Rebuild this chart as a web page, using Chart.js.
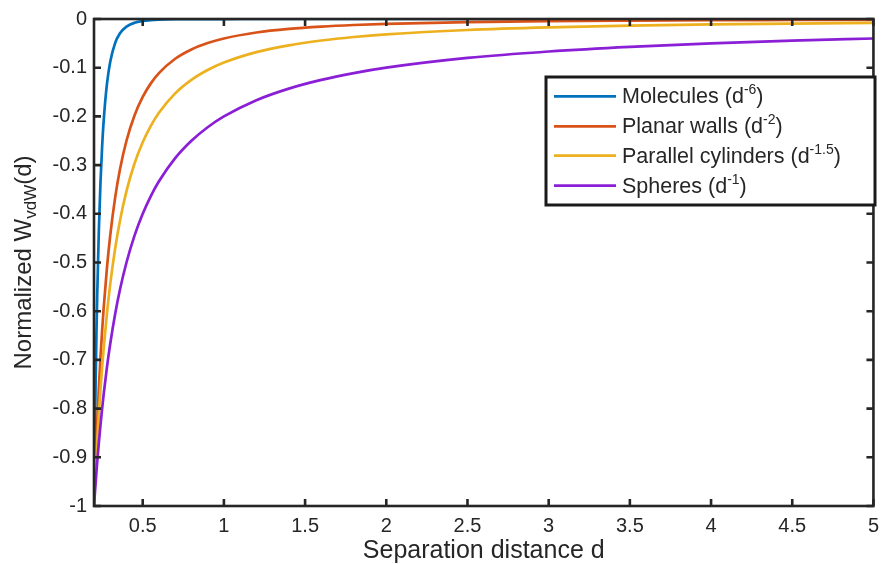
<!DOCTYPE html>
<html>
<head>
<meta charset="utf-8">
<script src="https://cdn.jsdelivr.net/npm/chart.js@4.4.1/dist/chart.umd.min.js"></script>
<style>
html,body{margin:0;padding:0;background:#fff;}
#wrap{width:887px;height:564px;position:relative;}
</style>
</head>
<body>
<div id="wrap"><canvas id="c" width="887" height="564"></canvas></div>
<script>
// Separation distance samples
const dValues = [0.2,0.205,0.21,0.215,0.22,0.23,0.24,0.25,0.26,0.28,0.3,0.33,0.36,0.4,0.45,0.5,0.55,0.6,0.7,0.8,0.9,1.0,1.2,1.4,1.6,1.8,2.0,2.5,3,3.5,4,4.5,5];
// Normalized W_vdW(d)
const molecules = [-1,-0.8623,-0.7462,-0.648,-0.5645,-0.4323,-0.3349,-0.2621,-0.2072,-0.1328,-0.0878,-0.0496,-0.0294,-0.0156,-0.0077,-0.0041,-0.0023,-0.0014,-0.0005,-0.0002,-0.0001,-0.0001,0,0,0,0,0,0,0,0,0,0,0];
const planarWalls = [-1,-0.9518,-0.907,-0.8653,-0.8264,-0.7561,-0.6944,-0.64,-0.5917,-0.5102,-0.4444,-0.3673,-0.3086,-0.25,-0.1975,-0.16,-0.1322,-0.1111,-0.0816,-0.0625,-0.0494,-0.04,-0.0278,-0.0204,-0.0156,-0.0123,-0.01,-0.0064,-0.0044,-0.0033,-0.0025,-0.002,-0.0016];
const cylinders = [-1,-0.9636,-0.9294,-0.8972,-0.8668,-0.8109,-0.7607,-0.7155,-0.6747,-0.6037,-0.5443,-0.4718,-0.4141,-0.3536,-0.2963,-0.253,-0.2193,-0.1925,-0.1527,-0.125,-0.1048,-0.0894,-0.068,-0.054,-0.0442,-0.037,-0.0316,-0.0226,-0.0172,-0.0137,-0.0112,-0.0094,-0.008];
const spheres = [-1,-0.9756,-0.9524,-0.9302,-0.9091,-0.8696,-0.8333,-0.8,-0.7692,-0.7143,-0.6667,-0.6061,-0.5556,-0.5,-0.4444,-0.4,-0.3636,-0.3333,-0.2857,-0.25,-0.2222,-0.2,-0.1667,-0.1429,-0.125,-0.1111,-0.1,-0.08,-0.0667,-0.0571,-0.05,-0.0444,-0.04];
const xTicks = [0.5,1,1.5,2,2.5,3,3.5,4,4.5,5];
const yTicks = [-1,-0.9,-0.8,-0.7,-0.6,-0.5,-0.4,-0.3,-0.2,-0.1,0];
const seriesNames = ['Molecules (d','Planar walls (d','Parallel cylinders (d','Spheres (d'];
const seriesSup = ['-6','-2','-1.5','-1'];
const seriesColors = ['#0072BD','#D95319','#EDB120','#8A1FD6'];

const FONT = "'Liberation Sans', Arial, Helvetica, sans-serif";
const INK = '#262626';
const seriesData = [molecules, planarWalls, cylinders, spheres];

const datasets = seriesData.map((arr, i) => ({
  label: seriesNames[i] + seriesSup[i] + ')',
  data: dValues.map((d, k) => ({x: d, y: arr[k]})),
  borderColor: seriesColors[i],
  borderWidth: 2.7,
  pointRadius: 0,
  fill: false,
  cubicInterpolationMode: 'monotone',
  order: 4 - i
}));

function fmt(v){
  const r = Math.round(v*10)/10;
  if (r === 0) return '0';
  return String(r);
}

const decor = {
  id: 'decor',
  afterDatasetsDraw(chart){
    const ctx = chart.ctx;
    const a = chart.chartArea;
    const xs = chart.scales.x, ys = chart.scales.y;
    ctx.save();
    ctx.strokeStyle = INK;
    ctx.lineWidth = 2.6;
    ctx.lineCap = 'butt';
    // box
    ctx.strokeRect(a.left, a.top, a.right - a.left, a.bottom - a.top);
    // inward ticks
    const tl = 7;
    ctx.beginPath();
    xTicks.forEach(v => {
      const px = xs.getPixelForValue(v);
      ctx.moveTo(px, a.bottom); ctx.lineTo(px, a.bottom - tl);
      ctx.moveTo(px, a.top); ctx.lineTo(px, a.top + tl);
    });
    yTicks.forEach(v => {
      const py = ys.getPixelForValue(v);
      ctx.moveTo(a.left, py); ctx.lineTo(a.left + tl, py);
      ctx.moveTo(a.right, py); ctx.lineTo(a.right - tl, py);
    });
    ctx.stroke();

    // x title
    ctx.fillStyle = INK;
    ctx.font = '25px ' + FONT;
    ctx.textAlign = 'center';
    ctx.textBaseline = 'alphabetic';
    ctx.fillText('Separation distance d', (a.left + a.right)/2, 558);

    // y title with subscript (rotated)
    ctx.save();
    ctx.translate(31, (a.top + a.bottom)/2);
    ctx.rotate(-Math.PI/2);
    const p1 = 'Normalized W', sub = 'vdW', p2 = '(d)';
    ctx.font = '24px ' + FONT;
    const w1 = ctx.measureText(p1).width;
    const w3 = ctx.measureText(p2).width;
    ctx.font = '17px ' + FONT;
    const w2 = ctx.measureText(sub).width;
    const total = w1 + w2 + w3;
    let x0 = -total/2;
    ctx.textAlign = 'left';
    ctx.font = '24px ' + FONT;
    ctx.fillText(p1, x0, 0);
    ctx.font = '17px ' + FONT;
    ctx.fillText(sub, x0 + w1, 5);
    ctx.font = '24px ' + FONT;
    ctx.fillText(p2, x0 + w1 + w2, 0);
    ctx.restore();

    // legend
    const lx = 546, ly = 77, lw = 329, lh = 128;
    ctx.fillStyle = '#fff';
    ctx.fillRect(lx, ly, lw, lh);
    ctx.strokeStyle = '#1a1a1a';
    ctx.lineWidth = 3;
    ctx.strokeRect(lx, ly, lw, lh);
    const rows = [96.3, 126.3, 155.7, 185.7];
    rows.forEach((ry, i) => {
      ctx.strokeStyle = seriesColors[i];
      ctx.lineWidth = 2.7;
      ctx.beginPath();
      ctx.moveTo(554, ry); ctx.lineTo(616, ry);
      ctx.stroke();
      ctx.fillStyle = INK;
      ctx.textBaseline = 'middle';
      ctx.textAlign = 'left';
      ctx.font = '21.5px ' + FONT;
      let tx = 622;
      ctx.fillText(seriesNames[i], tx, ry + 1);
      tx += ctx.measureText(seriesNames[i]).width;
      ctx.font = '14px ' + FONT;
      ctx.fillText(seriesSup[i], tx, ry - 6);
      tx += ctx.measureText(seriesSup[i]).width;
      ctx.font = '21.5px ' + FONT;
      ctx.fillText(')', tx, ry + 1);
    });
    ctx.restore();
  }
};

new Chart(document.getElementById('c'), {
  type: 'line',
  data: { datasets },
  options: {
    responsive: false,
    animation: false,
    devicePixelRatio: 1,
    layout: { padding: { left: 0, right: 7, top: 17, bottom: 0 } },
    plugins: { legend: { display: false }, tooltip: { enabled: false } },
    scales: {
      x: {
        type: 'linear',
        min: 0.2, max: 5,
        grid: { display: false, drawTicks: false },
        border: { display: false },
        afterBuildTicks: s => { s.ticks = xTicks.map(v => ({value: v})); },
        afterFit: s => { s.height = 58; },
        ticks: {
          color: INK, font: { family: FONT, size: 20 }, padding: 8,
          maxRotation: 0, autoSkip: false,
          callback: v => String(v)
        }
      },
      y: {
        type: 'linear',
        min: -1, max: 0,
        grid: { display: false, drawTicks: false },
        border: { display: false },
        afterBuildTicks: s => { s.ticks = yTicks.map(v => ({value: v})); },
        afterFit: s => { s.width = 94; },
        ticks: {
          color: INK, font: { family: FONT, size: 20 }, padding: 7,
          autoSkip: false,
          callback: v => fmt(v)
        }
      }
    }
  },
  plugins: [decor]
});
</script>
</body>
</html>
